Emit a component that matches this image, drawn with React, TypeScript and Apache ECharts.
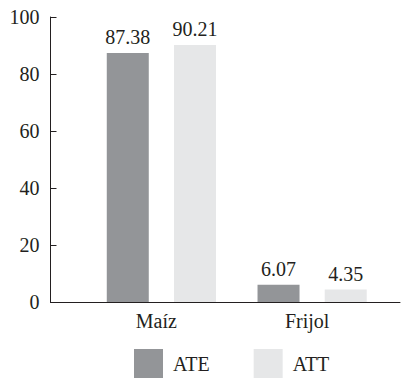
import React, { useEffect, useRef } from "react";
import * as echarts from "echarts";

const categories = ["Maíz", "Frijol"];
const ateValues = [87.38, 6.07];
const attValues = [90.21, 4.35];
const seriesNames = ["ATE", "ATT"];
const yTicks = { min: 0, max: 100, interval: 20 };

const FONT = "'Liberation Serif', 'Times New Roman', serif";
const INK = "#231f20";
const DARK = "#939598";
const LIGHT = "#e6e7e8";

export default function App() {
  const ref = useRef<HTMLDivElement>(null);

  useEffect(() => {
    if (!ref.current) return;
    const chart = echarts.init(ref.current, undefined, { renderer: "svg" });

    const valueLabel = {
      show: true,
      position: "top" as const,
      distance: 6,
      color: INK,
      fontFamily: FONT,
      fontSize: 20,
    };

    chart.setOption({
      animation: false,
      backgroundColor: "#ffffff",
      textStyle: { fontFamily: FONT, color: INK },
      grid: [
        // frame grid: carries the value axis and the full-width baseline
        { left: 50.5, right: 5, top: 17, bottom: 78 },
        // plot grid: carries the bars and category labels
        { left: 86, right: 17.5, top: 17, bottom: 78 },
      ],
      xAxis: [
        {
          gridIndex: 0,
          type: "value",
          min: 0,
          max: 1,
          axisLine: { show: true, lineStyle: { color: INK, width: 1 } },
          axisTick: { show: false },
          axisLabel: { show: false },
          splitLine: { show: false },
        },
        {
          gridIndex: 1,
          type: "category",
          data: categories,
          axisLine: { show: false },
          axisTick: { show: false },
          axisLabel: {
            color: INK,
            fontFamily: FONT,
            fontSize: 20,
            margin: 9,
            padding: [0, 10, 0, 0],
          },
        },
      ],
      yAxis: [
        {
          gridIndex: 0,
          type: "value",
          min: yTicks.min,
          max: yTicks.max,
          interval: yTicks.interval,
          axisLine: { show: true, lineStyle: { color: INK, width: 1 } },
          axisTick: { show: true, inside: true, length: 6, lineStyle: { color: INK } },
          axisLabel: { color: INK, fontFamily: FONT, fontSize: 20, margin: 11 },
          splitLine: { show: false },
        },
        {
          gridIndex: 1,
          type: "value",
          min: yTicks.min,
          max: yTicks.max,
          interval: yTicks.interval,
          show: false,
        },
      ],
      legend: {
        left: 134,
        top: 349,
        padding: 0,
        itemWidth: 29,
        itemHeight: 29,
        itemGap: 44,
        icon: "rect",
        data: seriesNames,
        textStyle: {
          color: INK,
          fontFamily: FONT,
          fontSize: 20,
          padding: [5, 0, 0, 5],
        },
      },
      series: [
        {
          name: seriesNames[0],
          type: "bar",
          xAxisIndex: 1,
          yAxisIndex: 1,
          data: ateValues,
          barWidth: 42,
          barGap: "60%",
          itemStyle: { color: DARK },
          label: valueLabel,
        },
        {
          name: seriesNames[1],
          type: "bar",
          xAxisIndex: 1,
          yAxisIndex: 1,
          data: attValues,
          barWidth: 42,
          barGap: "60%",
          itemStyle: { color: LIGHT },
          label: valueLabel,
        },
      ],
    });

    return () => chart.dispose();
  }, []);

  return (
    <div
      ref={ref}
      style={{ position: "fixed", left: 0, top: 0, width: 405, height: 380 }}
    />
  );
}
